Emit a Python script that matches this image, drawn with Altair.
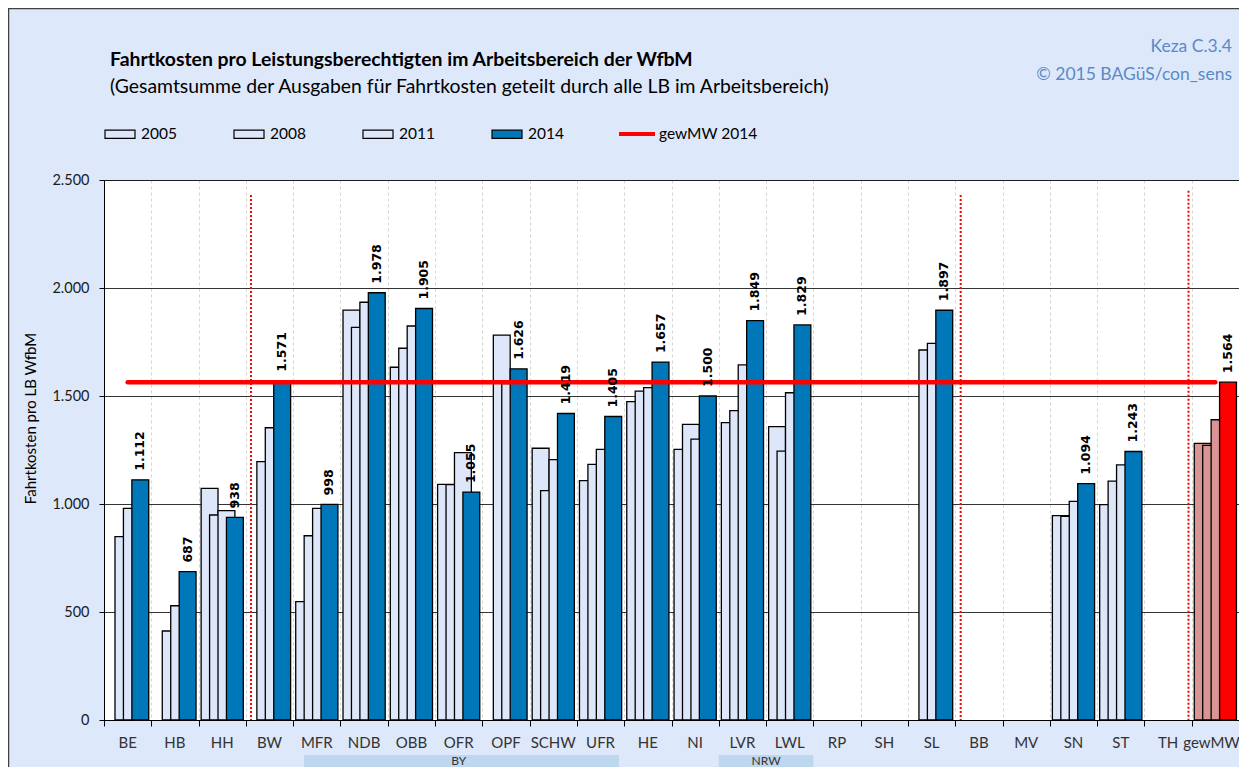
import altair as alt
import pandas as pd

categories = ["BE", "HB", "HH", "BW", "MFR", "NDB", "OBB", "OFR", "OPF", "SCHW", "UFR", "HE",
              "NI", "LVR", "LWL", "RP", "SH", "SL", "BB", "MV", "SN", "ST", "TH", "gewMW"]
years = ["2005", "2008", "2011", "2014"]
v2005 = [None, None, 1072, None, 548, 1898, 1633, 1091, None, 1258, 1108, 1474,
         1253, 1377, 1358, None, None, None, None, None, 946, 997, None, 1281]
v2008 = [849, 412, 949, 1196, 853, 1818, 1721, 1090, 1782, 1062, 1183, 1523,
         1369, 1432, 1245, None, None, 1713, None, None, 943, 1106, None, 1271]
v2011 = [980, 529, 969, 1353, 980, 1934, 1824, 1238, 1557, 1205, 1253, 1539,
         1300, 1644, 1515, None, None, 1744, None, None, 1012, 1181, None, 1390]
v2014 = [1112, 687, 938, 1571, 998, 1978, 1905, 1055, 1626, 1419, 1405, 1657,
         1500, 1849, 1829, None, None, 1897, None, None, 1094, 1243, None, 1564]
mean_label = "gewMW 2014"
mean_2014 = 1564
groups = ["BY", "NRW"]
group_first = ["MFR", "LVR"]
group_last = ["UFR", "LWL"]
separators_after = ["HH", "SL", "TH"]
separator_top = [2430, 2430, 2450]

title = "Fahrtkosten pro Leistungsberechtigten im Arbeitsbereich der WfbM"
subtitle = "(Gesamtsumme der Ausgaben für Fahrtkosten geteilt durch alle LB im Arbeitsbereich)"
credit1 = "Keza C.3.4"
credit2 = "© 2015 BAGüS/con_sens"
y_title = "Fahrtkosten pro LB WfbM"

LIGHT = "#DDE7F9"
BLUE = "#0077B8"
PINK = "#D99594"
RED = "#FF0000"
PANEL = "#DEE8FB"
FONT = "Lato"

# ---------- tables ----------
rows = []
for s, (yr, vals) in enumerate(zip(years, [v2005, v2008, v2011, v2014])):
    for i, (c, v) in enumerate(zip(categories, vals)):
        if v is None:
            continue
        if c == "gewMW":
            cls = "gewMW 2014" if yr == "2014" else "gewMW alt"
        else:
            cls = yr
        rows.append({"cat": c, "idx": i, "year": yr, "s": s, "value": v, "cls": cls})
bars_df = pd.DataFrame(rows)
labels_df = bars_df[bars_df["year"] == "2014"].copy()
cats_df = pd.DataFrame({"cat": categories, "idx": list(range(len(categories)))})
mean_df = pd.DataFrame({"idx": list(range(len(categories))), "value": [mean_2014] * len(categories),
                        "lbl": [mean_label] * len(categories)})
groups_df = pd.DataFrame({"grp": groups,
                          "first": [categories.index(c) for c in group_first],
                          "last": [categories.index(c) for c in group_last]})
sep_df = pd.DataFrame({"after": [categories.index(c) for c in separators_after],
                       "top": separator_top, "shift": [0.108, 0.115, -0.068]})

W, H = 1135, 540
N = len(categories)
U = 0.1784   # half bar width (fraction of a category)
M = 0.054    # margin inside category

xscale = alt.Scale(domain=[0, N], nice=False, zero=False)
yscale = alt.Scale(domain=[0, 2500], nice=False)

x_axis = alt.Axis(values=list(range(N + 1)), labels=False, ticks=True, tickSize=6,
                  tickColor="#000000", domainColor="#000000", grid=True,
                  gridColor="#D4D4D4", gridDash=[3, 3], gridWidth=1, title=None)
y_axis = alt.Axis(values=[0, 500, 1000, 1500, 2000, 2500], grid=True, gridColor="#000000",
                  gridWidth=0.8, tickSize=5, tickColor="#000000", domainColor="#000000",
                  labelFontSize=14.5, labelFont=FONT, labelColor="#1A1A1A", labelPadding=10,
                  labelExpr="replace(format(datum.value, ','), ',', '.')",
                  title=y_title, titleFont=FONT, titleFontSize=15, titleFontWeight="normal",
                  titleColor="#000000", titleAngle=270, titleX=-74, titleY=238,
                  titleAlign="center", titleBaseline="middle")

bars = alt.Chart(bars_df).mark_bar(stroke="#000000", strokeWidth=1.3, opacity=1).transform_calculate(
    x0=f"datum.idx + {M} + datum.s * {U}",
    x1=f"datum.idx + {M} + datum.s * {U} + {2 * U}",
    y0="0",
).encode(
    x=alt.X("x0:Q", scale=xscale, axis=x_axis),
    x2="x1:Q",
    y=alt.Y("value:Q", scale=yscale, axis=y_axis),
    y2="y0:Q",
    fill=alt.Fill("cls:N",
                  scale=alt.Scale(domain=years + ["gewMW alt", "gewMW 2014"],
                                  range=[LIGHT, LIGHT, LIGHT, BLUE, PINK, RED]),
                  legend=alt.Legend(title=None, orient="none", legendX=0, legendY=-62,
                                    direction="horizontal", columns=4, values=years,
                                    symbolType="M-1,-0.27H1V0.27H-1Z", symbolSize=900,
                                    symbolStrokeColor="#000000", symbolStrokeWidth=1.2,
                                    labelFont=FONT, labelFontSize=15.5, labelColor="#000000",
                                    labelOffset=5, columnPadding=54, padding=0)),
)

seps = alt.Chart(sep_df).mark_rule(color=RED, strokeDash=[2, 2], strokeWidth=2).transform_calculate(
    xs="datum.after + 1 + datum.shift", y0="0"
).encode(
    x=alt.X("xs:Q", scale=xscale),
    y=alt.Y("top:Q", scale=yscale),
    y2="y0:Q",
)

mean_line = alt.Chart(mean_df).mark_line(strokeWidth=4.5, strokeCap="round").transform_calculate(
    xc="datum.idx + 0.5"
).encode(
    x=alt.X("xc:Q", scale=xscale),
    y=alt.Y("value:Q", scale=yscale),
    stroke=alt.Stroke("lbl:N", scale=alt.Scale(domain=[mean_label], range=[RED]),
                      legend=alt.Legend(title=None, orient="none", legendX=513, legendY=-66,
                                        symbolType="M-1,0H1", symbolSize=1296,
                                        symbolStrokeWidth=4, symbolFillColor="transparent",
                                        labelFont=FONT, labelFontSize=15.5, labelColor="#000000",
                                        labelOffset=2, padding=0)),
)

value_labels = alt.Chart(labels_df).mark_text(
    angle=270, align="left", baseline="middle", dx=9, font="DejaVu Sans",
    fontWeight="bold", fontSize=12.5, color="#000000"
).transform_calculate(
    xl=f"datum.idx + {M} + {4 * U}",
    lab="replace(format(datum.value, ','), ',', '.')",
).encode(
    x=alt.X("xl:Q", scale=xscale),
    y=alt.Y("value:Q", scale=yscale),
    text="lab:N",
)

cat_labels = alt.Chart(cats_df).mark_text(
    font=FONT, fontSize=15, color="#333333", baseline="middle"
).transform_calculate(xc=f"datum.idx + 0.5 - (datum.idx == {N - 1} ? 0.08 : 0)").encode(
    x=alt.X("xc:Q", scale=xscale),
    y=alt.value(H + 23),
    text="cat:N",
)

group_bands = alt.Chart(groups_df).mark_rect(color="#BDD7EE").transform_calculate(
    g0="datum.first + (datum.grp == 'BY' ? 0.23 : 0.0)",
    g1="datum.last + 1 - (datum.grp == 'BY' ? 0.11 : 0.0)",
).encode(
    x=alt.X("g0:Q", scale=xscale),
    x2="g1:Q",
    y=alt.value(H + 35),
    y2=alt.value(H + 60),
)

group_text = alt.Chart(groups_df).mark_text(
    font=FONT, fontSize=12, color="#333333", baseline="middle"
).transform_calculate(gc="(datum.first + datum.last + 1) / 2").encode(
    x=alt.X("gc:Q", scale=xscale),
    y=alt.value(H + 41),
    text="grp:N",
)

title_txt = alt.Chart(pd.DataFrame({"t": [title]})).mark_text(
    align="left", baseline="middle", font=FONT, fontSize=19.4, fontWeight="bold", color="#000000"
).encode(x=alt.value(6), y=alt.value(-120), text="t:N")
subtitle_txt = alt.Chart(pd.DataFrame({"t": [subtitle]})).mark_text(
    align="left", baseline="middle", font=FONT, fontSize=19.4, color="#000000"
).encode(x=alt.value(6), y=alt.value(-93), text="t:N")

credit_a = alt.Chart(pd.DataFrame({"t": [credit1]})).mark_text(
    align="right", baseline="middle", font=FONT, fontSize=17.5, color="#5A8AC6"
).encode(x=alt.value(W - 7), y=alt.value(-133), text="t:N")
credit_b = alt.Chart(pd.DataFrame({"t": [credit2]})).mark_text(
    align="right", baseline="middle", font=FONT, fontSize=17.5, color="#5A8AC6"
).encode(x=alt.value(W - 7), y=alt.value(-105), text="t:N")

frame = alt.Chart(pd.DataFrame({"t": [0]})).mark_rect(
    fill="transparent", stroke="#404040", strokeWidth=1.5
).encode(x=alt.value(-95.5), x2=alt.value(W + 20), y=alt.value(-171.5), y2=alt.value(H + 80))

chart = alt.layer(
    group_bands, group_text, bars, seps, mean_line, value_labels, cat_labels,
    title_txt, subtitle_txt, credit_a, credit_b, frame
).properties(
    width=W, height=H,
    autosize=alt.AutoSizeParams(type="none"),
    padding={"left": 96, "top": 172, "right": 0, "bottom": 47},
).configure(background=PANEL).configure_view(fill="#FFFFFF", stroke="#888888", strokeWidth=1)

chart.save("out.html", embed_options={"renderer": "svg", "actions": False})
